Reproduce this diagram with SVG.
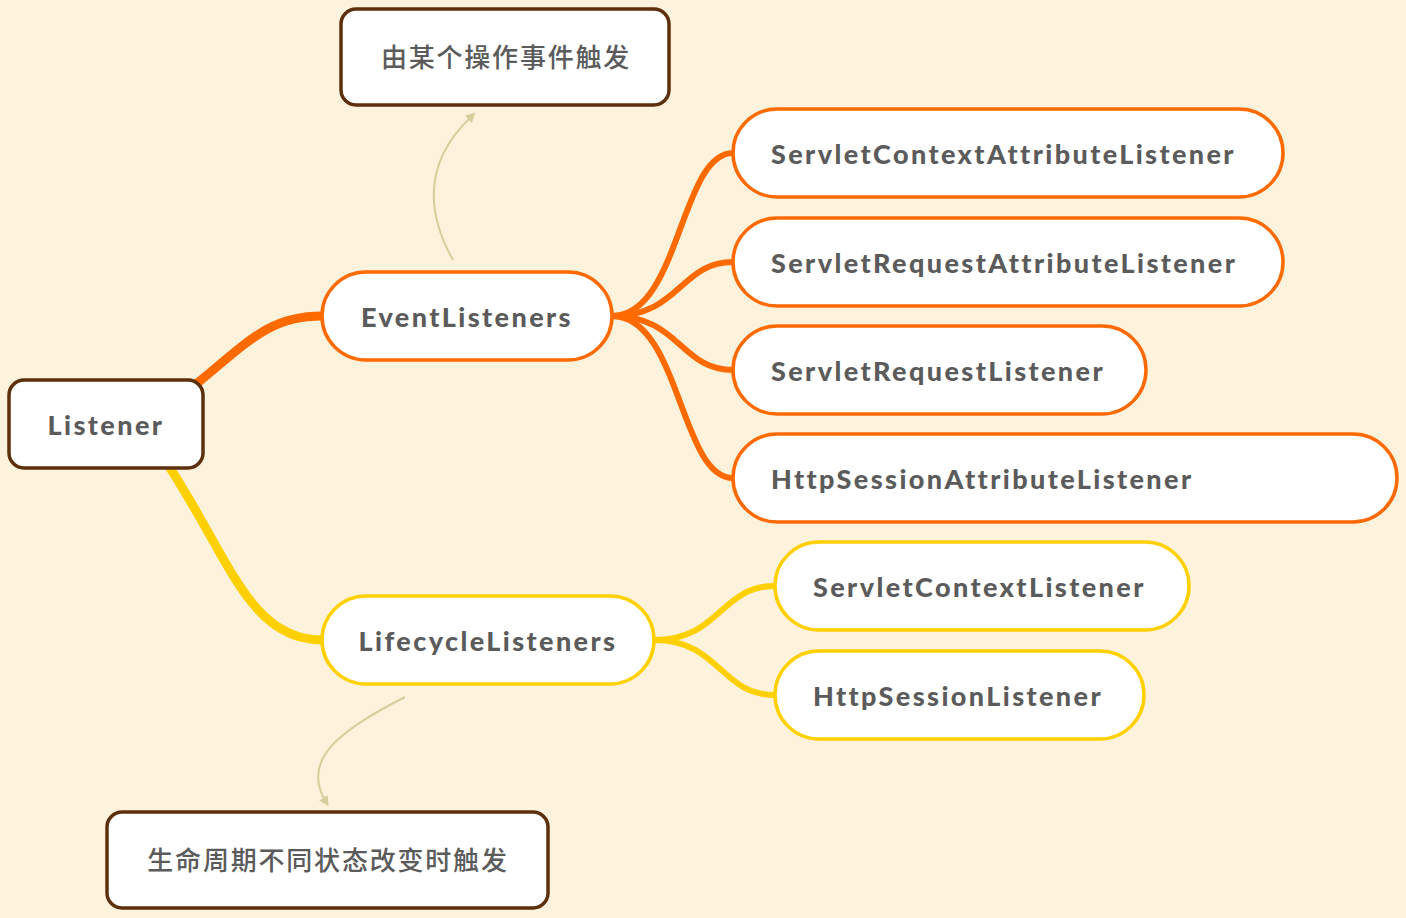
<svg xmlns="http://www.w3.org/2000/svg" width="1406" height="918" viewBox="0 0 1406 918">
<style>
.t{font-family:Lato,"Noto Sans","Noto Sans CJK SC",sans-serif;font-weight:900;font-size:27px;fill:#5b5b5b;letter-spacing:2.4px}
.c{font-family:"Noto Sans CJK SC",sans-serif;font-weight:500;font-size:26px;fill:#5b5b5b;letter-spacing:1.8px}
.b{fill:#fff;stroke:#5C300C;stroke-width:3.5}
.o{fill:#fff;stroke:#FF6A00;stroke-width:3.5}
.y{fill:#fff;stroke:#FFD000;stroke-width:3.5}
.lo{fill:none;stroke:#FF6A00;stroke-linecap:round}
.ly{fill:none;stroke:#FFD000;stroke-linecap:round}
.la{fill:none;stroke:#D6CF9C;stroke-width:2}
</style>
<defs><marker id="a" markerWidth="10" markerHeight="10" refX="5" refY="5" orient="auto" markerUnits="userSpaceOnUse"><path d="M0,0 L10,5 L0,10 Z" fill="#D6CF9C"/></marker></defs>
<rect width="1406" height="918" fill="#FDF3DD"/>
<g id="connectors">
<path class="lo" stroke-width="9" d="M195,385 C250,340 270,316 322,316"/>
<path class="ly" stroke-width="9" d="M170,468 C230,560 250,640 322,640"/>
<path class="lo" stroke-width="6" d="M612,316 C680,316 680,153 733,153"/>
<path class="lo" stroke-width="6" d="M612,316 C680,316 680,262 733,262"/>
<path class="lo" stroke-width="6" d="M612,316 C680,316 680,370 733,370"/>
<path class="lo" stroke-width="6" d="M612,316 C680,316 680,478 733,478"/>
<path class="ly" stroke-width="6" d="M654,640 C720,640 720,586 775,586"/>
<path class="ly" stroke-width="6" d="M654,640 C720,640 720,695 775,695"/>
<path class="la" marker-end="url(#a)" d="M453,260 C425,210 425,160 472,116"/>
<path class="la" marker-end="url(#a)" d="M405,697 C340,730 300,760 326,802"/>
</g>
<g id="listener"><rect class="b" x="9" y="380" width="194" height="88" rx="15"/><text class="t" x="106" y="435" text-anchor="middle">Listener</text></g>
<g id="event"><rect class="o" x="322" y="272" width="290" height="88" rx="44"/><text class="t" x="467" y="327" text-anchor="middle">EventListeners</text></g>
<g id="lifecycle"><rect class="y" x="322" y="596" width="332" height="88" rx="44"/><text class="t" x="488" y="651" text-anchor="middle">LifecycleListeners</text></g>
<g id="n1"><rect class="o" x="733" y="109" width="550" height="88" rx="44"/><text class="t" x="771" y="164">ServletContextAttributeListener</text></g>
<g id="n2"><rect class="o" x="733" y="218" width="550" height="88" rx="44"/><text class="t" x="771" y="273">ServletRequestAttributeListener</text></g>
<g id="n3"><rect class="o" x="733" y="326" width="413" height="88" rx="44"/><text class="t" x="771" y="381">ServletRequestListener</text></g>
<g id="n4"><rect class="o" x="733" y="434" width="664" height="88" rx="44"/><text class="t" x="771" y="489">HttpSessionAttributeListener</text></g>
<g id="n5"><rect class="y" x="775" y="542" width="414" height="88" rx="44"/><text class="t" x="813" y="597">ServletContextListener</text></g>
<g id="n6"><rect class="y" x="775" y="651" width="369" height="88" rx="44"/><text class="t" x="813" y="706">HttpSessionListener</text></g>
<g id="note1"><rect class="b" x="341" y="9" width="328" height="96" rx="15"/><text class="c" x="506" y="67" text-anchor="middle">由某个操作事件触发</text></g>
<g id="note2"><rect class="b" x="107" y="812" width="441" height="96" rx="15"/><text class="c" x="328" y="870" text-anchor="middle">生命周期不同状态改变时触发</text></g>
</svg>
